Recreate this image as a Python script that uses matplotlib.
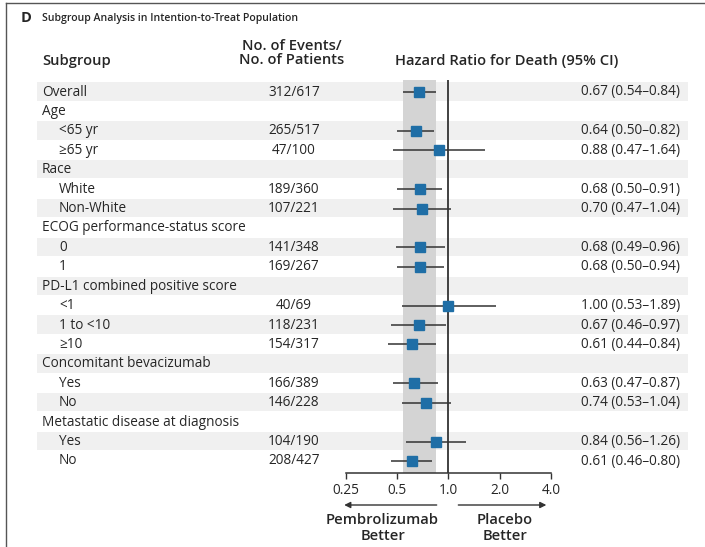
# ------------------------------------------ #
# SUBGROUP FOREST PLOT (INTENTION-TO-TREAT)  #
# ------------------------------------------ #

import numpy as np
import matplotlib.pyplot as plt
from matplotlib.transforms import blended_transform_factory
from matplotlib.patches import Rectangle
from matplotlib.lines import Line2D

plt.rcParams["font.family"] = ["Open Sans", "DejaVu Sans"]

# ---- #
# DATA #
# ---- #

# row labels (None in hr = header row, no estimate)
labels = [
    "Overall", "Age", "<65 yr", "\u226565 yr", "Race", "White", "Non-White",
    "ECOG performance-status score", "0", "1",
    "PD-L1 combined positive score", "<1", "1 to <10", "\u226510",
    "Concomitant bevacizumab", "Yes", "No",
    "Metastatic disease at diagnosis", "Yes", "No",
]
indent = [0, 0, 1, 1, 0, 1, 1, 0, 1, 1, 0, 1, 1, 1, 0, 1, 1, 0, 1, 1]
events = ["312/617", "", "265/517", "47/100", "", "189/360", "107/221",
          "", "141/348", "169/267", "", "40/69", "118/231", "154/317",
          "", "166/389", "146/228", "", "104/190", "208/427"]
hr = [0.67, None, 0.64, 0.88, None, 0.68, 0.70, None, 0.68, 0.68,
      None, 1.00, 0.67, 0.61, None, 0.63, 0.74, None, 0.84, 0.61]
lo = [0.54, None, 0.50, 0.47, None, 0.50, 0.47, None, 0.49, 0.50,
      None, 0.53, 0.46, 0.44, None, 0.47, 0.53, None, 0.56, 0.46]
hi = [0.84, None, 0.82, 1.64, None, 0.91, 1.04, None, 0.96, 0.94,
      None, 1.89, 0.97, 0.84, None, 0.87, 1.04, None, 1.26, 0.80]

xticks = [0.25, 0.5, 1.0, 2.0, 4.0]
xtick_labels = ["0.25", "0.5", "1.0", "2.0", "4.0"]

# ------ #
# LAYOUT #
# ------ #

W, H = 705, 547
TXT = "#262626"
BLUE = "#1f6ea6"
FS = 9.8     # body text
FS_HEAD = 10.6

fig = plt.figure(figsize=(W / 100, H / 100), dpi=100)

def fx(px):
    return px / W

def fy(px):
    return 1 - px / H

# forest axes: x 346..551 px, y 80..473 px
ax_top, ax_bot = 80, 473
ax = fig.add_axes([fx(346), fy(ax_bot), fx(551 - 346), (ax_bot - ax_top) / H])
ax.set_facecolor("none")
ax.set_xscale("log", base=2)
ax.set_xlim(0.25, 4.0)

n = len(labels)
row_top, row_bot = 92, 461
step = (row_bot - row_top) / (n - 1)
ax.set_ylim((ax_bot - row_top) / step, -(row_top - ax_top) / step)

rows = np.arange(n)
trans = blended_transform_factory(fig.transFigure, ax.transData)

# --- stripes --- #
for i in rows:
    if i % 2 == 0:
        ax.add_patch(Rectangle((fx(37), i - 0.5), fx(688 - 37), 0.95,
                               transform=trans, facecolor="#f0f0f0",
                               edgecolor="none", clip_on=False, zorder=0))

# shaded band = overall CI
ax.axvspan(lo[0], hi[0], color="#d4d4d4", zorder=1, lw=0)
ax.axvline(1.0, color="#333333", lw=1.3, zorder=2)

# --- estimates --- #
for i in rows:
    if hr[i] is None:
        continue
    ax.plot([lo[i], hi[i]], [i, i], color="#333333", lw=1.1, zorder=3,
            solid_capstyle="butt")
    ax.plot(hr[i], i, marker="s", ms=7.5, color=BLUE, mec=BLUE, zorder=4)

# --- text columns --- #
for i in rows:
    ax.text(fx(42 + 17 * indent[i]), i, labels[i], transform=trans,
            ha="left", va="center", fontsize=FS, color=TXT)
    if events[i]:
        ax.text(fx(294), i, events[i], transform=trans,
                ha="center", va="center", fontsize=FS, color=TXT)
    if hr[i] is not None:
        s = f"{hr[i]:.2f} ({lo[i]:.2f}\u2013{hi[i]:.2f})"
        ax.text(fx(680), i, s, transform=trans,
                ha="right", va="center", fontsize=FS, color=TXT)

# --- axis --- #
for side in ["top", "left", "right"]:
    ax.spines[side].set_visible(False)
ax.spines["bottom"].set_color("#333333")
ax.spines["bottom"].set_linewidth(1.1)
ax.set_yticks([])
ax.set_xticks(xticks)
ax.set_xticklabels(xtick_labels)
ax.xaxis.set_minor_locator(plt.NullLocator())
ax.tick_params(axis="x", direction="out", length=4, width=1, colors="#333333",
               labelsize=FS, labelcolor=TXT, pad=3)

# arrows + direction labels
arrow_y = -(505 - ax_bot) / (ax_bot - ax_top)
for x0, x1 in [(0.885, 0.235), (1.1, 3.9)]:
    ax.annotate("", xy=(x1, arrow_y), xytext=(x0, arrow_y),
                xycoords=("data", "axes fraction"),
                arrowprops=dict(arrowstyle="-|>", color="#333333", lw=1,
                                mutation_scale=9),
                annotation_clip=False)

lab_y = -(528 - ax_bot) / (ax_bot - ax_top)
ax.text(0.41, lab_y, "Pembrolizumab\nBetter", transform=ax.get_xaxis_transform(),
        ha="center", va="center", fontsize=FS_HEAD, fontweight="semibold",
        color=TXT, linespacing=1.1)
ax.text(2.14, lab_y, "Placebo\nBetter", transform=ax.get_xaxis_transform(),
        ha="center", va="center", fontsize=FS_HEAD, fontweight="semibold",
        color=TXT, linespacing=1.1)

# --- title + headers --- #
fig.text(fx(21), fy(18), "D", ha="left", va="center", fontsize=10.5,
         fontweight="bold", color=TXT)
fig.text(fx(42), fy(18), "Subgroup Analysis in Intention-to-Treat Population",
         ha="left", va="center", fontsize=7.6, fontweight="semibold", color=TXT)
fig.text(fx(42), fy(61), "Subgroup", ha="left", va="center", fontsize=FS_HEAD,
         fontweight="semibold", color=TXT)
fig.text(fx(292), fy(53), "No. of Events/\nNo. of Patients", ha="center",
         va="center", fontsize=FS_HEAD, fontweight="semibold", color=TXT,
         linespacing=1.05)
fig.text(fx(395), fy(61), "Hazard Ratio for Death (95% CI)", ha="left",
         va="center", fontsize=FS_HEAD, fontweight="semibold", color=TXT)

# frame lines (top + left)
fig.add_artist(Line2D([fx(6), 1], [fy(3), fy(3)], color="#555555", lw=1))
fig.add_artist(Line2D([fx(6), fx(6)], [fy(3), 0], color="#555555", lw=1))

fig.savefig("out.png", dpi=100)
